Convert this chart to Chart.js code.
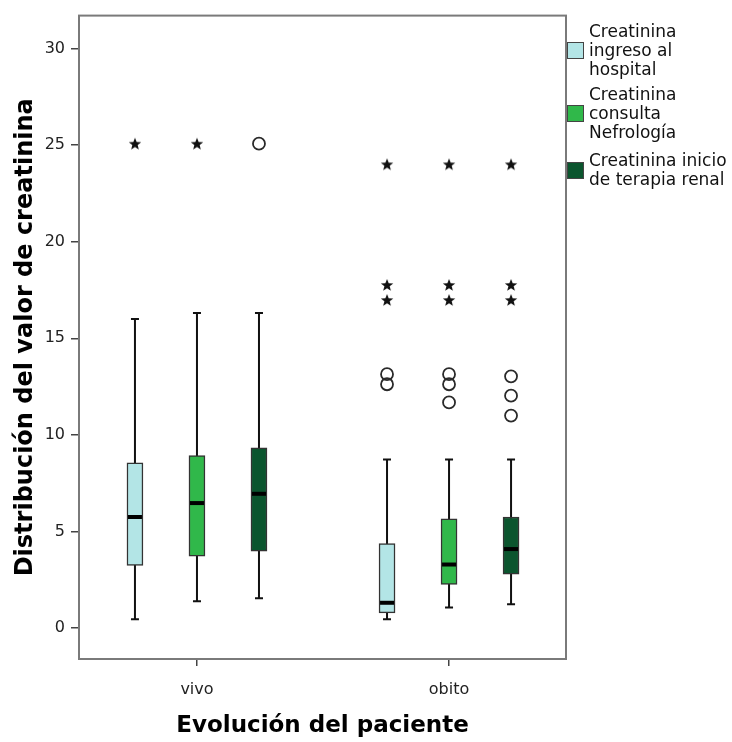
<!DOCTYPE html>
<html>
<head>
<meta charset="utf-8">
<script src="https://cdn.jsdelivr.net/npm/chart.js@4.4.1/dist/chart.umd.min.js"></script>
<style>
  body { margin: 0; background: #fff; }
  #wrap { position: relative; width: 732px; height: 742px; }
  #legend { position: absolute; left: 567px; top: 22px; font-family: "DejaVu Sans", sans-serif; font-size: 17px; line-height: 19px; color: #111; }
  .leg-item { position: relative; padding-left: 22px; white-space: nowrap; }
  .leg-sw { position: absolute; left: 0; width: 17px; height: 17px; border: 1px solid #444; box-sizing: border-box; }
</style>
</head>
<body>
<div id="wrap">
  <canvas id="boxChart" width="732" height="742"></canvas>
  <div id="legend"></div>
</div>
<script>
// Data
const categories = ['vivo', 'obito'];
const seriesNames = ['Creatinina ingreso al hospital', 'Creatinina consulta Nefrología', 'Creatinina inicio de terapia renal'];
const legendLines = [['Creatinina', 'ingreso al', 'hospital'], ['Creatinina', 'consulta', 'Nefrología'], ['Creatinina inicio', 'de terapia renal']];
const yTicks = [0, 5, 10, 15, 20, 25, 30];

// box stats, [series][category]
const whiskerLow = [[0.46, 0.46], [1.39, 1.07], [1.55, 1.24]];
const q1 = [[3.24, 0.79], [3.72, 2.26], [3.98, 2.79]];
const median = [[5.75, 1.31], [6.47, 3.29], [6.95, 4.09]];
const q3 = [[8.55, 4.37], [8.93, 5.66], [9.33, 5.75]];
const whiskerHigh = [[16.0, 8.72], [16.31, 8.72], [16.31, 8.72]];

// outliers (circles) and extremes (stars), [series][category] -> values
const outliers = [
    [[], [13.14, 12.62]],
    [[], [13.14, 12.62, 11.68]],
    [[25.07], [13.03, 12.03, 11.0]]
];
const extremes = [
    [[25.07], [24.0, 17.76, 16.98]],
    [[25.07], [24.0, 17.76, 16.98]],
    [[], [24.0, 17.76, 16.98]]
];

// Styles
const colors = ['#b3e5e6', '#30b84a', '#0b552e'];
const GROUP_OFFSET = 0.246; // x units between boxes of one category
const BOX_W = 16;

function xOf(s, c) {
    return c + 1 + (s - 1) * GROUP_OFFSET;
}

// small filled star used for extreme values
function makeStar() {
    const cv = document.createElement('canvas');
    cv.width = 14; cv.height = 14;
    const g = cv.getContext('2d');
    g.fillStyle = '#111';
    g.beginPath();
    for (let i = 0; i < 10; i++) {
        const r = i % 2 === 0 ? 6.5 : 2.8;
        const a = -Math.PI / 2 + i * Math.PI / 5;
        const px = 7 + r * Math.cos(a), py = 7.5 + r * Math.sin(a);
        if (i === 0) g.moveTo(px, py); else g.lineTo(px, py);
    }
    g.closePath();
    g.fill();
    return cv;
}
const starImg = makeStar();

// Datasets
const datasets = [];
seriesNames.forEach((name, s) => {
    datasets.push({
        type: 'bar',
        label: name,
        data: categories.map((cat, c) => ({ x: xOf(s, c), y: [q1[s][c], q3[s][c]] })),
        backgroundColor: colors[s],
        borderColor: '#333',
        borderWidth: 1.5,
        borderSkipped: false,
        barThickness: BOX_W,
        grouped: false,
        order: 3
    });
});
seriesNames.forEach((name, s) => {
    const pts = [];
    categories.forEach((cat, c) => outliers[s][c].forEach(v => pts.push({ x: xOf(s, c), y: v })));
    datasets.push({
        type: 'scatter',
        label: name + ' outliers',
        data: pts,
        pointStyle: 'circle',
        pointRadius: 6,
        backgroundColor: 'rgba(0,0,0,0)',
        borderColor: '#2a2a2a',
        borderWidth: 1.8,
        order: 1
    });
    const ext = [];
    categories.forEach((cat, c) => extremes[s][c].forEach(v => ext.push({ x: xOf(s, c), y: v })));
    datasets.push({
        type: 'scatter',
        label: name + ' extremes',
        data: ext,
        pointStyle: starImg,
        pointRadius: 6,
        order: 1
    });
});

// frame + whiskers behind the boxes, medians on top
const boxPlugin = {
    id: 'boxPlugin',
    beforeDatasetsDraw(chart) {
        const { ctx, chartArea, scales: { x, y } } = chart;
        ctx.save();
        ctx.strokeStyle = '#7a7a7a';
        ctx.lineWidth = 2;
        ctx.strokeRect(chartArea.left, chartArea.top, chartArea.right - chartArea.left, chartArea.bottom - chartArea.top);
        ctx.strokeStyle = '#111';
        ctx.lineWidth = 2;
        seriesNames.forEach((n, s) => {
            categories.forEach((cat, c) => {
                const px = x.getPixelForValue(xOf(s, c));
                const lo = y.getPixelForValue(whiskerLow[s][c]);
                const hi = y.getPixelForValue(whiskerHigh[s][c]);
                ctx.beginPath();
                ctx.moveTo(px, lo); ctx.lineTo(px, hi);
                ctx.moveTo(px - 4, lo); ctx.lineTo(px + 4, lo);
                ctx.moveTo(px - 4, hi); ctx.lineTo(px + 4, hi);
                ctx.stroke();
            });
        });
        ctx.restore();
    },
    afterDatasetsDraw(chart) {
        const { ctx, scales: { x, y } } = chart;
        ctx.save();
        ctx.strokeStyle = '#000';
        ctx.lineWidth = 4;
        seriesNames.forEach((n, s) => {
            categories.forEach((cat, c) => {
                const px = x.getPixelForValue(xOf(s, c));
                const py = y.getPixelForValue(median[s][c]);
                ctx.beginPath();
                ctx.moveTo(px - BOX_W / 2 + 1, py);
                ctx.lineTo(px + BOX_W / 2 - 1, py);
                ctx.stroke();
            });
        });
        ctx.restore();
    }
};

const ctx = document.getElementById('boxChart').getContext('2d');
const chart = new Chart(ctx, {
    type: 'bar',
    data: { datasets: datasets },
    plugins: [boxPlugin],
    options: {
        responsive: false,
        animation: false,
        events: [],
        layout: { padding: { top: 14, right: 166, left: 0, bottom: 0 } },
        plugins: { legend: { display: false }, tooltip: { enabled: false } },
        scales: {
            x: {
                type: 'linear',
                offset: false,
                min: 0.532,
                max: 2.464,
                afterBuildTicks: (scale) => { scale.ticks = categories.map((c, i) => ({ value: i + 1 })); },
                afterFit: (scale) => { scale.height = 83; },
                grid: { offset: false, drawOnChartArea: false, drawTicks: true, tickLength: 7, color: '#444', lineWidth: 1.5 },
                border: { display: true, color: '#333', width: 2 },
                ticks: {
                    color: '#222',
                    padding: 14,
                    font: { family: 'DejaVu Sans', size: 16 },
                    callback: (v) => categories[Math.round(v) - 1]
                },
                title: {
                    display: true,
                    text: 'Evolución del paciente',
                    color: '#000',
                    font: { family: 'DejaVu Sans', size: 23, weight: 'bold' },
                    padding: { top: 0, bottom: 2 }
                }
            },
            y: {
                min: -1.6,
                max: 31.7,
                afterBuildTicks: (scale) => { scale.ticks = yTicks.map(v => ({ value: v })); },
                afterFit: (scale) => { scale.width = 79; },
                grid: { drawOnChartArea: false, drawTicks: true, tickLength: 8, color: '#444', lineWidth: 1.5 },
                border: { display: true, color: '#333', width: 2 },
                ticks: {
                    color: '#222',
                    padding: 6,
                    font: { family: 'DejaVu Sans', size: 16 }
                },
                title: {
                    display: true,
                    text: 'Distribución del valor de creatinina',
                    color: '#000',
                    font: { family: 'DejaVu Sans', size: 24, weight: 'bold' },
                    padding: { top: 11, bottom: 0 }
                }
            }
        }
    }
});

// HTML legend
const legendEl = document.getElementById('legend');
legendEl.innerHTML = legendLines.map((lines, s) => {
    const swTop = (lines.length * 19 - 17) / 2;
    return `<div class="leg-item" style="margin-bottom:${s === 0 ? 6 : 9}px">
        <span class="leg-sw" style="top:${swTop}px;background:${colors[s]}"></span>${lines.join('<br>')}
    </div>`;
}).join('');
</script>
</body>
</html>
